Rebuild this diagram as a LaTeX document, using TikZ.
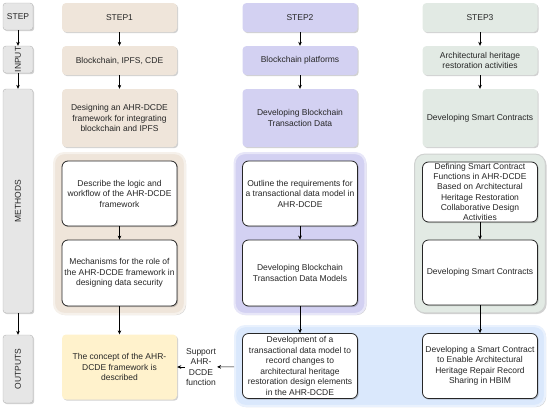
\documentclass[tikz,border=0pt]{standalone}
\usepackage{fontspec}
\setmainfont{Liberation Sans}
\usetikzlibrary{arrows.meta, positioning, fit, backgrounds, shadows}
\definecolor{sidefill}{HTML}{E6E6E6}
\definecolor{sideline}{HTML}{B5B5B5}
\definecolor{onebeige}{HTML}{EFE5DA}
\definecolor{twolilac}{HTML}{D3D1F2}
\definecolor{threesage}{HTML}{E2EAE4}
\definecolor{outyellow}{HTML}{FFF2CC}
\definecolor{outblue}{HTML}{DAE8FC}
\tikzset{
  txt/.style={align=center,inner sep=2pt,text=black!85,font=\fontsize{8.5}{10.5}\selectfont},
  softshadow/.style={drop shadow={shadow xshift=1.2pt,shadow yshift=-1.2pt,fill=black,opacity=0.18}},
  sidebox/.style={txt,rounded corners=3pt,draw=sideline,fill=sidefill,minimum width=30pt,inner sep=0.5pt,softshadow},
  stepbox/.style={txt,rounded corners=4pt,minimum width=115pt,softshadow},
  workbox/.style={txt,rounded corners=6pt,draw=black!85,fill=white,line width=0.8pt,minimum width=115pt,softshadow},
  grpbox/.style={rounded corners=10pt,line width=2.2pt,inner sep=7.5pt,softshadow},
  flow/.style={-{Stealth[length=4pt,width=3.6pt]},semithick,black},
}

\begin{document}
\begin{tikzpicture}[x=1pt,y=-1pt]
  \useasboundingbox (0,0) rectangle (550,413);
  % side column
  \node[sidebox,minimum height=27pt] (sStep) at (18,16.5) {STEP};
  \node[sidebox,minimum height=27pt] (sIn) at (18,59.5) {\rotatebox{90}{INPUT}};
  \node[sidebox,minimum height=224pt] (sMeth) at (18,201) {\rotatebox{90}{METHODS}};
  \node[sidebox,minimum height=68pt] (sOut) at (18,369) {\rotatebox{90}{OUTPUTS}};
  % step 1
  \node[stepbox,fill=onebeige,minimum height=29pt] (h1) at (119.5,17.5) {STEP1};
  \node[stepbox,fill=onebeige,minimum height=29pt] (i1) at (119.5,60.5) {Blockchain, IPFS, CDE};
  \node[stepbox,fill=onebeige,minimum height=58pt] (m1) at (119.5,118) {Designing an AHR-DCDE\\framework for integrating\\blockchain and IPFS};
  \node[workbox,minimum height=65pt] (a1) at (119.5,193.5) {Describe the logic and\\workflow of the AHR-DCDE\\framework};
  \node[workbox,minimum height=66pt] (b1) at (119.5,273) {Mechanisms for the role of\\the AHR-DCDE framework in\\designing data security};
  \node[stepbox,fill=outyellow,minimum height=65pt] (o1) at (119.5,367) {The concept of the AHR-\\DCDE framework is\\described};
  % step 2
  \node[stepbox,fill=twolilac,minimum height=29pt] (h2) at (300,17.5) {STEP2};
  \node[stepbox,fill=twolilac,minimum height=29pt] (i2) at (300,60.5) {Blockchain platforms};
  \node[stepbox,fill=twolilac,minimum height=58pt] (m2) at (300,118) {Developing Blockchain\\Transaction Data};
  \node[workbox,minimum height=65pt] (a2) at (300,193.5) {Outline the requirements for\\a transactional data model in\\AHR-DCDE};
  \node[workbox,minimum height=66pt] (b2) at (300,273) {Developing Blockchain\\Transaction Data Models};
  \node[workbox,minimum height=65pt,inner sep=0.5pt] (o2) at (300,366) {Development of a\\transactional data model to\\record changes to\\architectural heritage\\restoration design elements\\in the AHR-DCDE};
  % step 3
  \node[stepbox,fill=threesage,minimum height=29pt] (h3) at (480,17.5) {STEP3};
  \node[stepbox,fill=threesage,minimum height=29pt] (i3) at (480,60.5) {Architectural heritage\\restoration activities};
  \node[stepbox,fill=threesage,minimum height=58pt] (m3) at (480,118) {Developing Smart Contracts};
  \node[workbox,minimum height=60pt,inner sep=0pt,font=\fontsize{8.5}{10.2}\selectfont] (a3) at (480,192) {Defining Smart Contract\\Functions in AHR-DCDE\\Based on Architectural\\Heritage Restoration\\Collaborative Design\\Activities};
  \node[workbox,minimum height=65pt] (b3) at (480,272.5) {Developing Smart Contracts};
  \node[workbox,minimum height=65pt] (o3) at (480,366) {Developing a Smart Contract\\to Enable Architectural\\Heritage Repair Record\\Sharing in HBIM};
  % cross link
  \node[txt,inner sep=1pt] (sup) at (201,367) {Support\\AHR-\\DCDE\\function};

  \draw[flow] (sStep) -- (sIn);
  \draw[flow] (sIn) -- (sMeth);
  \draw[flow] (sMeth) -- (sOut);
  \draw[flow] (h1) -- (i1);
  \draw[flow] (i1) -- (m1);
  \draw[flow] (a1) -- (b1);
  \draw[flow] (b1) -- (o1);
  \draw[flow] (h2) -- (i2);
  \draw[flow] (i2) -- (m2);
  \draw[flow] (a2) -- (b2);
  \draw[flow] (b2) -- (o2);
  \draw[flow] (h3) -- (i3);
  \draw[flow] (i3) -- (m3);
  \draw[flow] (a3) -- (b3);
  \draw[flow] (b3) -- (o3);
  \begin{scope}[on background layer]
    \node[grpbox,fill=onebeige,draw=onebeige!55!white,fit=(a1)(b1)] (g1) {};
    \node[grpbox,fill=twolilac,draw=twolilac!55!white,fit=(a2)(b2)] (g2) {};
    \node[grpbox,fill=threesage,draw=threesage!60!black!40!white,line width=1pt,fit=(a3)(b3)] (g3) {};
    \node[grpbox,fill=outblue,draw=outblue!60!white,inner sep=7pt,fit=(o2)(o3)] (g4) {};
  \end{scope}
  \draw[flow] (g4) -- (sup);
  \draw[flow] (sup) -- (o1);
\end{tikzpicture}
\end{document}
